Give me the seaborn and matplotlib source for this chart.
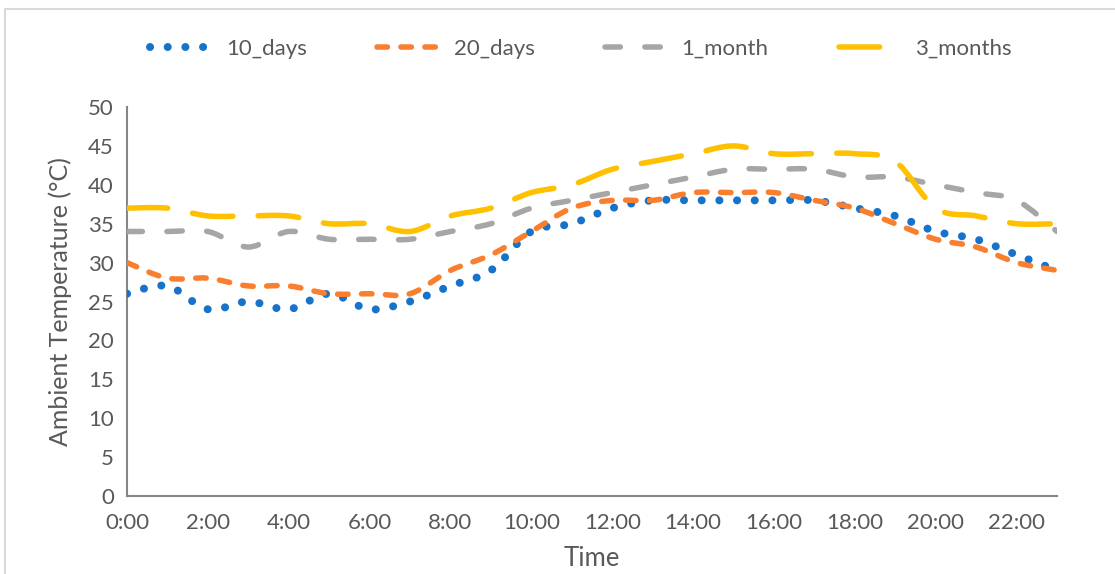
import numpy as np
import matplotlib
matplotlib.use("Agg")
import matplotlib.pyplot as plt
from matplotlib.path import Path
from matplotlib.patches import PathPatch, Rectangle
from matplotlib.lines import Line2D
import seaborn as sns

# Hourly ambient temperature readings (°C)
hours = list(range(24))
tick_hours = list(range(0, 23, 2))
tick_labels = [f"{h}:00" for h in tick_hours]

ten_days = [26, 27, 24, 25, 24, 26, 24, 25, 27, 29, 34, 35,
            37, 38, 38, 38, 38, 38, 37, 36, 34, 33, 31, 29]
twenty_days = [30, 28, 28, 27, 27, 26, 26, 26, 29, 31, 34, 37,
               38, 38, 39, 39, 39, 38, 37, 35, 33, 32, 30, 29]
one_month = [34, 34, 34, 32, 34, 33, 33, 33, 34, 35, 37, 38,
             39, 40, 41, 42, 42, 42, 41, 41, 40, 39, 38, 34]
three_months = [37, 37, 36, 36, 36, 35, 35, 34, 36, 37, 39, 40,
                42, 43, 44, 45, 44, 44, 44, 43, 37, 36, 35, 35]

series_names = ["10_days", "20_days", "1_month", "3_months"]
series_values = [ten_days, twenty_days, one_month, three_months]
series_colors = ["#1772C9", "#F97E2D", "#A6A6A6", "#FFC000"]

PX = 0.72  # points per pixel at 100 dpi
series_styles = [
    dict(lw=8.0 * PX, dashes=(0.01, 2.2)),   # round dots
    dict(lw=5.5 * PX, dashes=(1.9, 2.45)),   # dash
    dict(lw=5.5 * PX, dashes=(2.8, 4.45)),   # long dash
    dict(lw=5.5 * PX, dashes=(7.4, 4.6)),    # long dash
]

sns.set_theme(style="white")
plt.rcParams["font.family"] = ["Lato", "DejaVu Sans"]
text_color = "#595959"
axis_color = "#868686"

fig = plt.figure(figsize=(11.15, 5.74), dpi=100)
ax = fig.add_axes([127 / 1115, 78 / 574, 930 / 1115, 389 / 574])


def smooth_path(x, y):
    """Cubic Bezier path through the points, with Catmull-Rom style tangents."""
    x = np.asarray(x, float)
    y = np.asarray(y, float)
    n = len(x)
    verts = [(x[0], y[0])]
    codes = [Path.MOVETO]
    for i in range(n - 1):
        p0 = np.array([x[max(i - 1, 0)], y[max(i - 1, 0)]])
        p1 = np.array([x[i], y[i]])
        p2 = np.array([x[i + 1], y[i + 1]])
        p3 = np.array([x[min(i + 2, n - 1)], y[min(i + 2, n - 1)]])
        c1 = p1 + (p2 - p0) / 6.0
        c2 = p2 - (p3 - p1) / 6.0
        verts += [tuple(c1), tuple(c2), tuple(p2)]
        codes += [Path.CURVE4] * 3
    return Path(verts, codes)


handles = []
for name, vals, color, st in zip(series_names, series_values, series_colors, series_styles):
    patch = PathPatch(smooth_path(hours, vals), fill=False, edgecolor=color,
                      lw=st["lw"], linestyle=(0, st["dashes"]),
                      capstyle="round", joinstyle="round", zorder=3)
    ax.add_patch(patch)
    handles.append(Line2D([0], [0], color=color, lw=st["lw"],
                          linestyle=(0, st["dashes"]),
                          dash_capstyle="round", solid_capstyle="round"))

ax.set_xlim(0, 23)
ax.set_ylim(0, 50)
ax.set_xticks(tick_hours)
ax.set_xticklabels(tick_labels)
ax.set_yticks(range(0, 51, 5))

for side in ["top", "right"]:
    ax.spines[side].set_visible(False)
for side in ["left", "bottom"]:
    ax.spines[side].set_color(axis_color)
    ax.spines[side].set_linewidth(1.5)

ax.tick_params(axis="both", which="major", direction="out", color=axis_color,
               width=1.3, labelcolor=text_color, labelsize=16)
ax.tick_params(axis="x", length=5.5, pad=7)
ax.tick_params(axis="y", length=4.5, pad=5)
ax.grid(False)

ax.set_xlabel("Time", color=text_color, fontsize=18.5)
ax.xaxis.set_label_coords(0.5, (496 - 559) / 389)
ax.xaxis.label.set_verticalalignment("center")
ax.set_ylabel("Ambient Temperature (°C)", color=text_color, fontsize=18)
ax.yaxis.set_label_coords((60 - 127) / 930, 0.5)
ax.yaxis.label.set_verticalalignment("center")

fig.legend(handles, series_names, loc="center", ncol=4, frameon=False,
           bbox_to_anchor=(0.521, 1 - 49 / 574), fontsize=16,
           labelcolor=text_color, handlelength=3.0, handletextpad=0.45,
           columnspacing=3.15)

# chart area border
fig.add_artist(Rectangle((5 / 1115, -0.1), 1.2, 0.1 + 1 - 9 / 574,
                         transform=fig.transFigure, fill=False,
                         edgecolor="#D9D9D9", lw=1.5, zorder=0))

fig.savefig("out.png", dpi=100, facecolor="white")
